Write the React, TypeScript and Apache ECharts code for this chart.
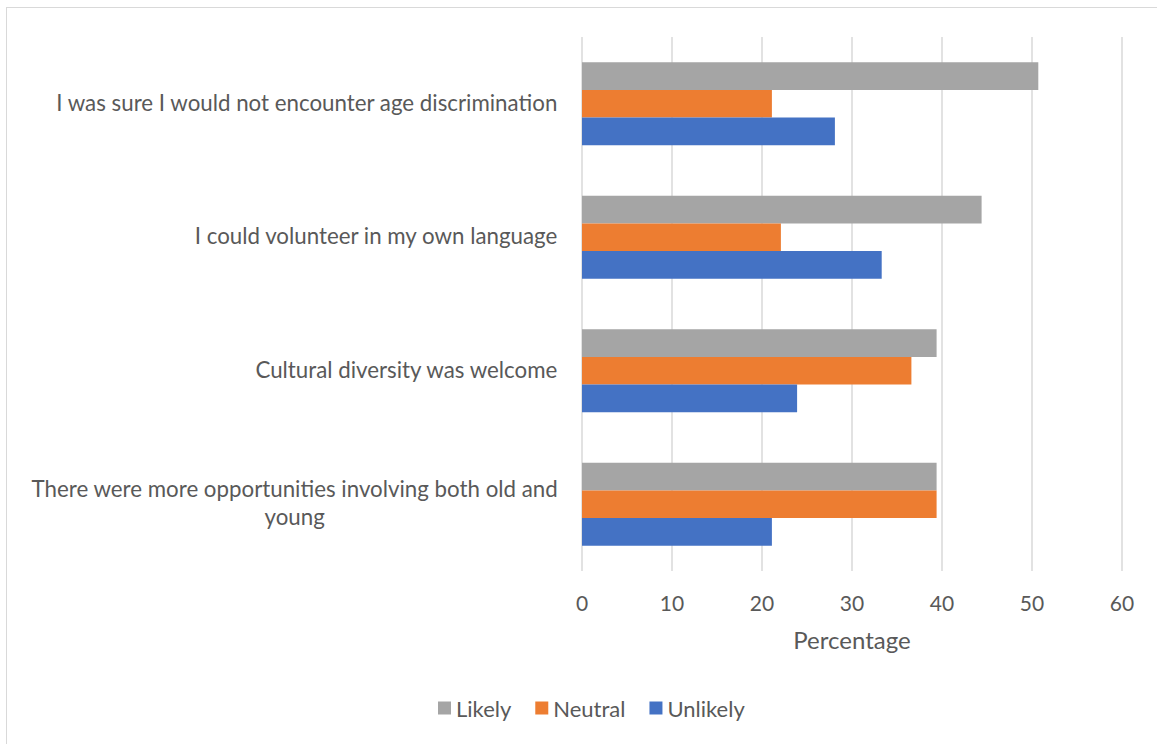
import React, { useEffect, useRef } from "react";
import * as echarts from "echarts";

const categories = [
  "There were more opportunities involving both old and young",
  "Cultural diversity was welcome",
  "I could volunteer in my own language",
  "I was sure I would not encounter age discrimination",
];
const likely = [39.4, 39.4, 44.4, 50.7];
const neutral = [39.4, 36.6, 22.1, 21.1];
const unlikely = [21.1, 23.9, 33.3, 28.1];
const xTicks = { min: 0, max: 60, interval: 10 };
const FONT = "Lato";
const TEXT = "#595959";

export default function App() {
  const ref = useRef<HTMLDivElement>(null);
  useEffect(() => {
    if (!ref.current) return;
    const chart = echarts.init(ref.current, undefined, { renderer: "svg" });
    chart.setOption({
      animation: false,
      textStyle: { fontFamily: FONT, color: TEXT },
      grid: { left: 582, right: 35, top: 37, bottom: 173, containLabel: false },
      legend: {
        data: ["Likely", "Neutral", "Unlikely"],
        bottom: 20,
        left: 433,
        itemWidth: 13,
        itemHeight: 13,
        itemGap: 24,
        icon: "rect",
        textStyle: { fontFamily: FONT, fontSize: 22, color: TEXT },
      },
      xAxis: {
        type: "value",
        min: xTicks.min,
        max: xTicks.max,
        interval: xTicks.interval,
        name: "Percentage",
        nameLocation: "middle",
        nameGap: 56,
        nameTextStyle: { fontFamily: FONT, fontSize: 24, color: TEXT },
        axisLine: { show: false },
        axisTick: { show: false },
        axisLabel: { fontFamily: FONT, fontSize: 21, color: TEXT, margin: 21 },
        splitLine: { show: true, lineStyle: { color: "#d9d9d9", width: 1.5 } },
      },
      yAxis: {
        type: "category",
        data: categories,
        axisLine: { show: false },
        axisTick: { show: false },
        axisLabel: {
          margin: 24,
          fontFamily: FONT,
          fontSize: 22.3,
          color: TEXT,
          formatter: (v: string) => {
            if (v.length > 52) {
              const idx = v.lastIndexOf(" ");
              return "{c|" + v.slice(0, idx) + "}\n{c|" + v.slice(idx + 1) + "}";
            }
            return "{c|" + v + "}";
          },
          rich: {
            c: { align: "center", fontFamily: FONT, fontSize: 22.3, color: TEXT, lineHeight: 28, padding: [0, 0, 3, 0] },
          },
        },
      },
      series: [
        {
          name: "Likely",
          type: "bar",
          data: likely,
          itemStyle: { color: "#A5A5A5" },
          barGap: "0%",
          barCategoryGap: "38%",
        },
        {
          name: "Neutral",
          type: "bar",
          data: neutral,
          itemStyle: { color: "#ED7D31" },
          barGap: "0%",
          barCategoryGap: "38%",
        },
        {
          name: "Unlikely",
          type: "bar",
          data: unlikely,
          itemStyle: { color: "#4472C4" },
          barGap: "0%",
          barCategoryGap: "38%",
        },
      ],
    });
    return () => chart.dispose();
  }, []);
  return (
    <div style={{ position: "absolute", left: 0, top: 0, width: 1157, height: 744, background: "#fff", overflow: "hidden" }}>
      <div
        style={{
          position: "absolute",
          left: 6,
          top: 7,
          width: 1160,
          height: 760,
          border: "1.5px solid #d9d9d9",
          boxSizing: "border-box",
        }}
      />
      <div ref={ref} style={{ position: "absolute", left: 0, top: 0, width: 1157, height: 744 }} />
    </div>
  );
}
